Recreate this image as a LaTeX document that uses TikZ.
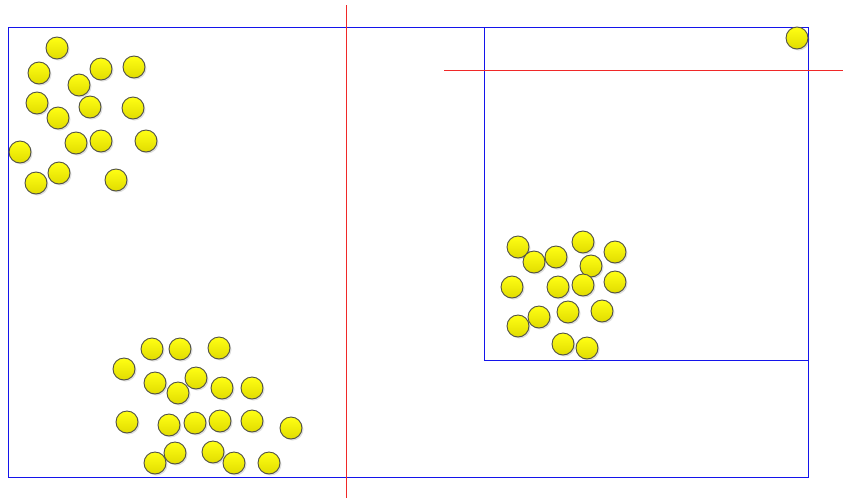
\documentclass[tikz,border=0pt]{standalone}
\usetikzlibrary{shadows}
\definecolor{ballTop}{RGB}{255,255,20}
\definecolor{ballBot}{RGB}{225,220,0}
\definecolor{ballEdge}{RGB}{80,80,70}
\definecolor{boxBlue}{RGB}{20,20,235}
\definecolor{lineRed}{RGB}{240,40,40}
\tikzset{
  ball/.style={circle, minimum size=22pt, inner sep=0pt, draw=ballEdge, line width=0.9pt,
    top color=ballTop, bottom color=ballBot,
    drop shadow={opacity=0.25, shadow xshift=1.5pt, shadow yshift=-1.5pt}},
  boxline/.style={draw=boxBlue, line width=1pt},
  redline/.style={draw=lineRed, line width=1pt}
}
\begin{document}
\begin{tikzpicture}[x=1pt,y=-1pt]
\useasboundingbox (0,0) rectangle (843,501);
\fill[white] (0,0) rectangle (843,501);
% boxes
\coordinate (B1a) at (8,27);
\coordinate (B1b) at (808,477);
\draw[boxline] (B1a) rectangle (B1b);
\coordinate (B2a) at (484,27);
\coordinate (B2b) at (808,360);
\draw[boxline] (B2a) rectangle (B2b);
% red lines
\coordinate (V1) at (346,5);
\coordinate (V2) at (346,498);
\draw[redline] (V1) -- (V2);
\coordinate (H1) at (444,70);
\coordinate (H2) at (843,70);
\draw[redline] (H1) -- (H2);
% top-left cluster
\foreach \n/\x/\y in {a1/57/48, a2/39/73, a3/79/85, a4/101/69, a5/134/67, a6/37/103,
  a7/58/118, a8/90/107, a9/133/108, a10/20/152, a11/76/143, a12/101/141, a13/146/141,
  a14/36/183, a15/59/173, a16/116/180}
  \node[ball] (\n) at (\x,\y) {};
% bottom cluster
\foreach \n/\x/\y in {b1/152/349, b2/180/349, b3/219/348, b4/124/369, b5/155/383,
  b6/196/378, b7/178/393, b8/222/388, b9/252/388, b10/127/422, b11/169/425,
  b12/195/423, b13/220/421, b14/252/421, b15/291/428, b16/175/453, b17/155/463,
  b18/213/452, b19/234/463, b20/269/463}
  \node[ball] (\n) at (\x,\y) {};
% right cluster
\foreach \n/\x/\y in {c1/518/247, c2/534/262, c3/556/257, c4/583/242, c5/615/252,
  c6/591/266, c7/512/287, c8/558/287, c9/583/285, c10/615/282, c11/539/317,
  c12/518/326, c13/568/312, c14/602/311, c15/563/344, c16/587/348}
  \node[ball] (\n) at (\x,\y) {};
% corner ball
\node[ball] (d1) at (797,38) {};
\end{tikzpicture}
\end{document}
